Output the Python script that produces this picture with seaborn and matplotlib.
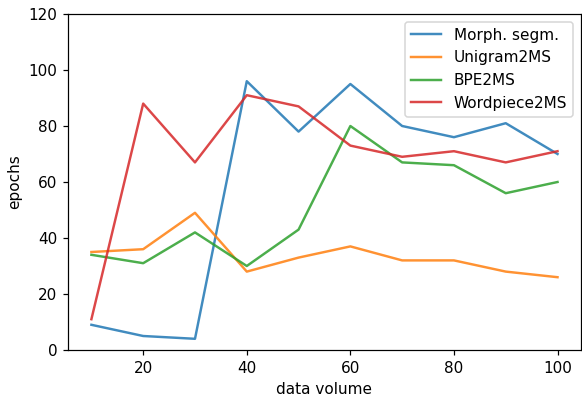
import pandas as pd
import seaborn as sns
import matplotlib.pyplot as plt

# Epochs per data volume for each segmentation method
volume = [10, 20, 30, 40, 50, 60, 70, 80, 90, 100]
morph = [9, 5, 4, 96, 78, 95, 80, 76, 81, 70]
unigram = [35, 36, 49, 28, 33, 37, 32, 32, 28, 26]
bpe = [34, 31, 42, 30, 43, 80, 67, 66, 56, 60]
wordpiece = [11, 88, 67, 91, 87, 73, 69, 71, 67, 71]

df = pd.DataFrame({
    "data volume": volume,
    "Morph. segm.": morph,
    "Unigram2MS": unigram,
    "BPE2MS": bpe,
    "Wordpiece2MS": wordpiece,
})
long_df = df.melt(id_vars="data volume", var_name="method", value_name="epochs")

# dpi 110 so text and lines come out a bit larger, like the original
fig, ax = plt.subplots(figsize=(582 / 110, 400 / 110), dpi=110)
sns.lineplot(data=long_df, x="data volume", y="epochs", hue="method",
             palette="tab10", alpha=0.85, linewidth=1.6, ax=ax)
ax.set_ylim(0, 120)
ax.legend(loc="upper right")
plt.subplots_adjust(left=0.117, right=0.998, top=0.965, bottom=0.125)
plt.savefig("out.png", dpi=110)
